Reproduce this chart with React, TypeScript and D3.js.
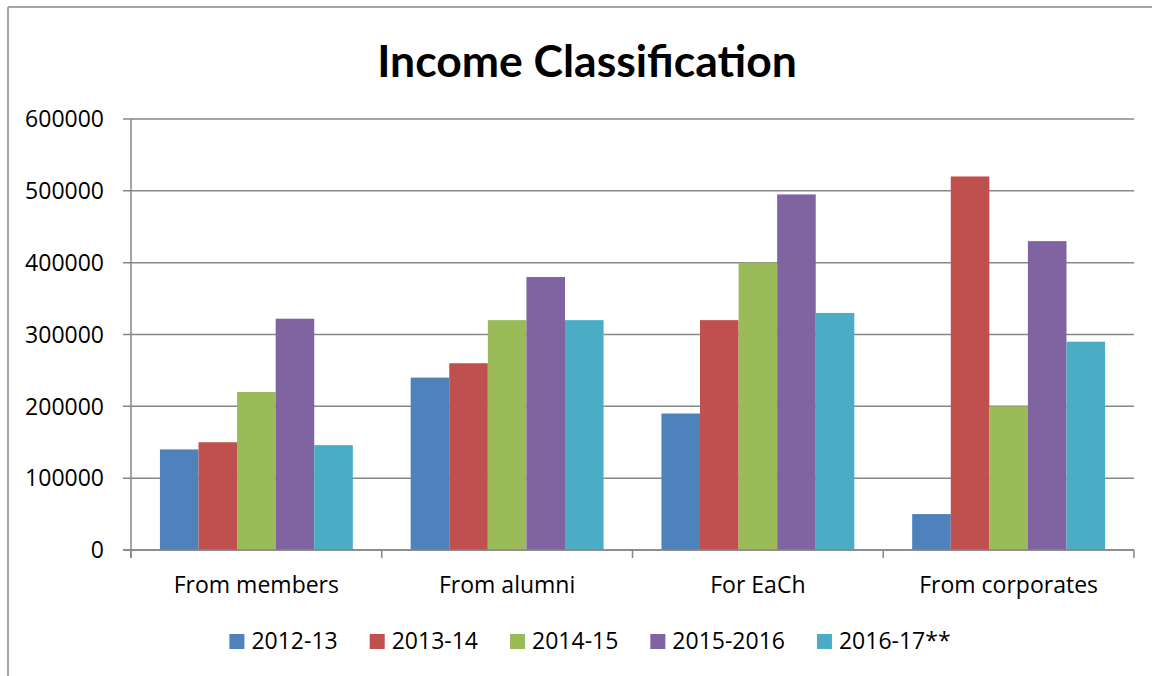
import React, { useEffect, useRef } from "react";
import * as d3 from "d3";

const categories = ["From members", "From alumni", "For EaCh", "From corporates"];
const seriesNames = ["2012-13", "2013-14", "2014-15", "2015-2016", "2016-17**"];
const seriesColors = ["#4F81BD", "#C0504D", "#9BBB59", "#8064A2", "#4BACC6"];
const s2012 = [140000, 240000, 190000, 50000];
const s2013 = [150000, 260000, 320000, 520000];
const s2014 = [220000, 320000, 400000, 200000];
const s2015 = [322000, 380000, 495000, 430000];
const s2016 = [146000, 320000, 330000, 290000];
const seriesValues = [s2012, s2013, s2014, s2015, s2016];
const yTicks = [0, 100000, 200000, 300000, 400000, 500000, 600000];
const title = "Income Classification";

const W = 1152;
const H = 676;
const TITLE_FONT = "Lato, 'Open Sans', sans-serif";
const FONT = "'Open Sans', Lato, sans-serif";
const FS = 23;

export default function App() {
  const ref = useRef<SVGSVGElement | null>(null);

  useEffect(() => {
    const svg = d3.select(ref.current);
    svg.selectAll("*").remove();

    const left = 131, right = 1134, top = 119, bottom = 550;
    const centerX = 590;
    const gridColor = "#878787";

    // outer border (left & top)
    svg.append("line").attr("x1", 8).attr("x2", 8).attr("y1", 7).attr("y2", H)
      .attr("stroke", gridColor).attr("stroke-width", 1.5);
    svg.append("line").attr("x1", 8).attr("x2", W).attr("y1", 7).attr("y2", 7)
      .attr("stroke", gridColor).attr("stroke-width", 1.5);

    const y = d3.scaleLinear().domain([0, 600000]).range([bottom, top]);
    const x = d3.scaleBand<string>().domain(categories).range([left, right]).padding(0);
    const xi = d3.scaleBand<string>().domain(seriesNames).range([0, x.bandwidth()])
      .paddingInner(0).paddingOuter(0.75);

    // title
    svg.append("text").attr("x", 587).attr("y", 77).attr("text-anchor", "middle")
      .attr("font-family", TITLE_FONT).attr("font-weight", 700).attr("font-size", 44.5)
      .attr("fill", "#000").text(title);

    // gridlines + y ticks
    const g = svg.append("g");
    yTicks.forEach((t) => {
      g.append("line").attr("x1", left - 8).attr("x2", right)
        .attr("y1", y(t)).attr("y2", y(t))
        .attr("stroke", gridColor).attr("stroke-width", 1.5);
      g.append("text").attr("x", 104).attr("y", y(t)).attr("dy", "0.36em")
        .attr("text-anchor", "end").attr("font-family", FONT).attr("font-size", FS)
        .attr("fill", "#000").text(String(t));
    });

    // bars
    seriesValues.forEach((vals, si) => {
      g.append("g").selectAll("rect").data(vals).join("rect")
        .attr("x", (_d, i) => (x(categories[i]) as number) + (xi(seriesNames[si]) as number))
        .attr("width", xi.bandwidth())
        .attr("y", (d) => y(d))
        .attr("height", (d) => y(0) - y(d))
        .attr("fill", seriesColors[si]);
    });

    // axes lines
    g.append("line").attr("x1", left).attr("x2", left).attr("y1", top).attr("y2", bottom + 8)
      .attr("stroke", gridColor).attr("stroke-width", 1.5);
    g.append("line").attr("x1", left - 8).attr("x2", right).attr("y1", bottom).attr("y2", bottom)
      .attr("stroke", gridColor).attr("stroke-width", 1.5);
    const catEdges = categories.map((c) => x(c) as number).concat([right]);
    catEdges.forEach((cx) => {
      g.append("line").attr("x1", cx).attr("x2", cx).attr("y1", bottom).attr("y2", bottom + 8)
        .attr("stroke", gridColor).attr("stroke-width", 1.5);
    });
    categories.forEach((c) => {
      g.append("text").attr("x", (x(c) as number) + x.bandwidth() / 2).attr("y", 593)
        .attr("text-anchor", "middle").attr("font-family", FONT).attr("font-size", FS)
        .attr("fill", "#000").text(c);
    });

    // legend
    const lg = svg.append("g");
    const sq = 15, gapSqText = 7, gapItem = 32;
    const items = seriesNames.map((n, i) => {
      const it = lg.append("g");
      it.append("rect").attr("width", sq).attr("height", sq).attr("y", 634)
        .attr("fill", seriesColors[i]);
      const t = it.append("text").attr("x", sq + gapSqText).attr("y", 649)
        .attr("font-family", FONT).attr("font-size", FS).attr("fill", "#000").text(n);
      const w = (t.node() as SVGTextElement).getComputedTextLength();
      return { it, w: sq + gapSqText + w };
    });
    const total = d3.sum(items, (d) => d.w) + gapItem * (items.length - 1);
    let cx = centerX - total / 2;
    items.forEach((d) => {
      d.it.attr("transform", `translate(${cx},0)`);
      cx += d.w + gapItem;
    });
  }, []);

  return (
    <svg
      ref={ref}
      width={W}
      height={H}
      style={{ position: "absolute", left: 0, top: 0, display: "block", background: "#fff" }}
    />
  );
}
